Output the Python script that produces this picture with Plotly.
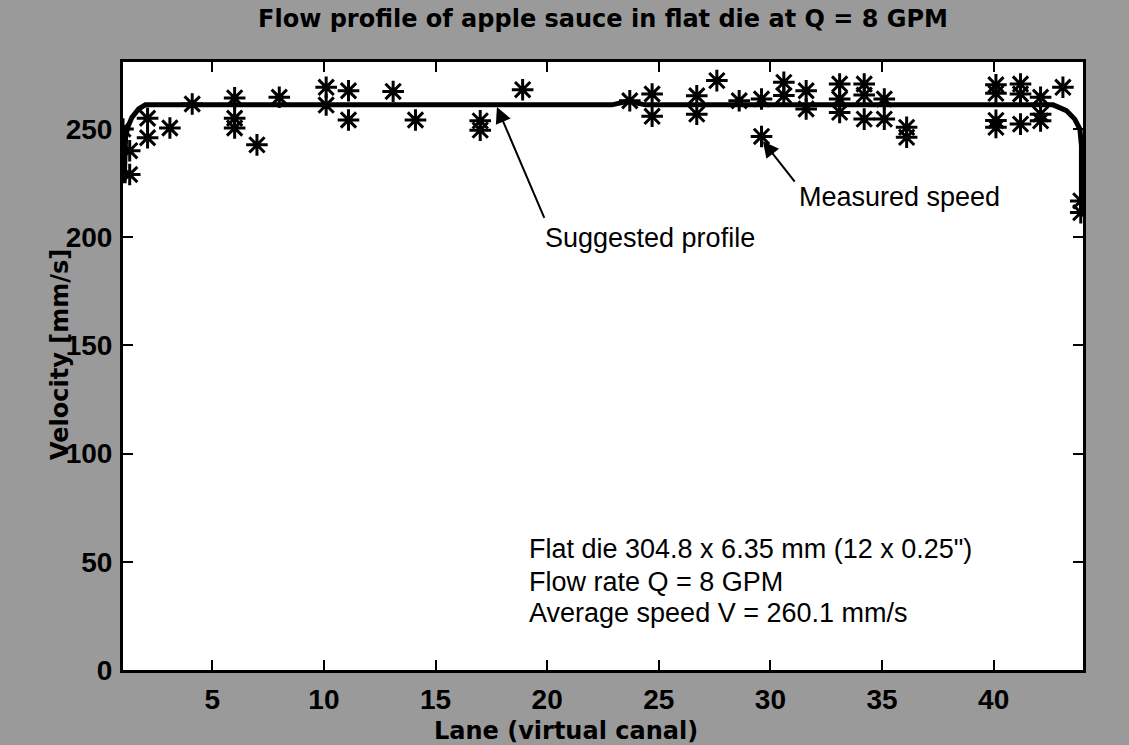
import plotly.graph_objects as go

# ---- data ----
lane_meas = [1.0, 1.3, 1.3,
             2.1, 2.1, 3.1, 4.1,
             6.0, 6.0, 6.0, 7.0, 8.0,
             10.1, 10.1, 11.1, 11.1, 13.1, 14.1,
             17.0, 17.0, 18.9,
             23.7, 24.7, 24.7, 26.7, 26.7, 27.6, 28.6,
             29.6, 29.6, 30.6, 30.6, 31.6, 31.6,
             33.1, 33.1, 33.1, 34.2, 34.2, 34.2,
             35.1, 35.1, 36.1, 36.1,
             40.1, 40.1, 40.1, 40.1,
             41.2, 41.2, 41.2,
             42.1, 42.1, 42.1, 43.1,
             43.9, 43.9]
speed_meas = [250, 240, 229,
              255, 246, 250.5, 261.6,
              264.4, 255, 250.5, 242.7, 264.7,
              269.3, 261.1, 267.7, 254.2, 267.4, 254.2,
              253.8, 249.5, 268.2,
              263.1, 266.2, 255.9, 265.4, 256.9, 272.4, 263.1,
              263.9, 246.6, 271.6, 265.5, 267.7, 259.3,
              270.8, 263.9, 257.7, 270.8, 265.7, 254.6,
              263.9, 254.6, 250.8, 246.2,
              270.5, 266.5, 254.0, 250.8,
              270.8, 266.2, 252.3,
              264.7, 256.9, 253.8, 269.3,
              216.8, 211.4]

lane_profile = [1.05, 1.08, 1.12, 1.24, 1.4, 1.7, 2.0,
                22.9, 23.6, 24.4,
                42.66, 43.26, 43.63, 43.86, 43.93, 43.93, 43.95]
speed_profile = [225, 235, 247, 251.5, 255.4, 259.3, 261.2,
                 261.2, 262.8, 261.2,
                 261.2, 258.5, 254.6, 250, 242.3, 219, 210.5]

x_ticks = [5, 10, 15, 20, 25, 30, 35, 40]
y_ticks = [0, 50, 100, 150, 200, 250]

title_text = "Flow profile of apple sauce in flat die at Q = 8 GPM"
x_title = "Lane (virtual canal)"
y_title = "Velocity [mm/s]"
info_lines = ['Flat die 304.8 x 6.35 mm (12 x 0.25")',
              "Flow rate Q = 8 GPM",
              "Average speed V = 260.1 mm/s"]

fig = go.Figure()
fig.add_trace(go.Scatter(x=lane_profile, y=speed_profile, mode="lines",
                         line=dict(color="black", width=5),
                         name="Suggested profile"))
fig.add_trace(go.Scatter(x=lane_meas, y=speed_meas, mode="markers",
                         marker=dict(symbol="asterisk-open", size=18, color="black",
                                     line=dict(color="black", width=3)),
                         name="Measured speed"))

bold = dict(family="Liberation Sans, Arial", size=28, color="black", weight="bold")
txt = dict(family="Liberation Sans, Arial", size=27, color="black")

fig.update_layout(
    width=1129, height=745,
    margin=dict(l=123, r=46, t=62, b=75),
    paper_bgcolor="#9a9a9a",
    plot_bgcolor="white",
    showlegend=False,
    title=dict(text=title_text, x=0.5, xref="paper", y=1 - 19 / 745,
               yref="container", xanchor="center", yanchor="middle",
               font=dict(family="DejaVu Sans", size=24, color="black", weight="bold")),
)
fig.update_xaxes(range=[1, 44], tickvals=x_ticks, ticks="inside", ticklen=10,
                 tickwidth=2, tickcolor="black", mirror="ticks", showline=True,
                 linewidth=3, linecolor="black", showgrid=False, zeroline=False,
                 tickfont=bold, ticklabelstandoff=2)
fig.update_yaxes(range=[0, 281], tickvals=y_ticks, ticks="inside", ticklen=10,
                 tickwidth=2, tickcolor="black", mirror="ticks", showline=True,
                 linewidth=3, linecolor="black", showgrid=False, zeroline=False,
                 tickfont=bold, ticklabelstandoff=2)

# axis titles
fig.add_annotation(text=x_title, xref="paper", yref="paper",
                   x=(566 - 123) / 960, y=-(731 - 670) / 608,
                   xanchor="center", yanchor="middle", showarrow=False,
                   font=dict(family="DejaVu Sans", size=24, color="black", weight="bold"))
fig.add_annotation(text=y_title, xref="paper", yref="paper",
                   x=-(123 - 60) / 960, y=(670 - 355) / 608, textangle=-90,
                   xanchor="center", yanchor="middle", showarrow=False,
                   font=dict(family="DejaVu Sans", size=24, color="black", weight="bold"))

# arrows
fig.add_annotation(x=17.75, y=260.2, ax=19.9, ay=208.3, xref="x", yref="y",
                   axref="x", ayref="y", text="", showarrow=True,
                   arrowhead=2, arrowsize=1.6, arrowwidth=2, arrowcolor="black")
fig.add_annotation(x=29.66, y=244.4, ax=31.14, ay=225, xref="x", yref="y",
                   axref="x", ayref="y", text="", showarrow=True,
                   arrowhead=2, arrowsize=1.6, arrowwidth=2, arrowcolor="black")
fig.add_annotation(text="Suggested profile", x=19.8, y=199.5, xref="x", yref="y",
                   xanchor="left", yanchor="middle", showarrow=False, font=txt)
fig.add_annotation(text="Measured speed", x=31.2, y=218.5, xref="x", yref="y",
                   xanchor="left", yanchor="middle", showarrow=False, font=txt)

for line, yv in zip(info_lines, [56, 40.7, 26.4]):
    fig.add_annotation(text=line, x=19.1, y=yv, xref="x", yref="y",
                       xanchor="left", yanchor="middle", showarrow=False, font=txt)

fig.write_html("out.html")
